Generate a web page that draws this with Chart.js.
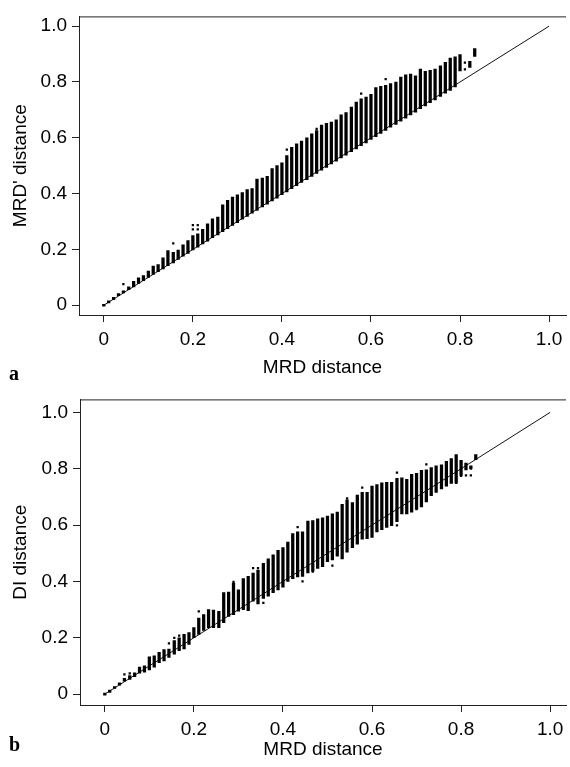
<!DOCTYPE html>
<html>
<head>
<meta charset="utf-8">
<script src="https://cdn.jsdelivr.net/npm/chart.js@4.4.1/dist/chart.umd.min.js"></script>
<style>
    body { margin: 0; background: #fff; width: 570px; height: 767px; position: relative; overflow: hidden; }
    canvas { position: absolute; left: 0; }
    #chartA { top: 0; }
    #chartB { top: 383px; }
    .panel { position: absolute; left: 9px; font: bold 20px "Liberation Serif", serif; color: #000; }
</style>
</head>
<body>
<canvas id="chartA" width="570" height="383"></canvas>
<canvas id="chartB" width="570" height="384"></canvas>
<div class="panel" style="top:362px">a</div>
<div class="panel" style="top:733px">b</div>
<script>
// tick values for both axes
const xTicks = [0, 0.2, 0.4, 0.6, 0.8, 1.0];
const yTicks = [0, 0.2, 0.4, 0.6, 0.8, 1.0];

// MRD distance of each column
const mrd = [0, 0.011, 0.022, 0.033, 0.044, 0.056, 0.067, 0.078, 0.089, 0.1,
    0.111, 0.122, 0.133, 0.144, 0.156, 0.167, 0.178, 0.189, 0.2, 0.211,
    0.222, 0.233, 0.244, 0.256, 0.267, 0.278, 0.289, 0.3, 0.311, 0.322,
    0.333, 0.344, 0.356, 0.367, 0.378, 0.389, 0.4, 0.411, 0.422, 0.433,
    0.444, 0.456, 0.467, 0.478, 0.489, 0.5, 0.511, 0.522, 0.533, 0.544,
    0.556, 0.567, 0.578, 0.589, 0.6, 0.611, 0.622, 0.633, 0.644, 0.656,
    0.667, 0.678, 0.689, 0.7, 0.711, 0.722, 0.733, 0.744, 0.756, 0.767,
    0.778, 0.789, 0.8, 0.811, 0.822, 0.833];

// panel a: MRD' distance range per column
const lowA = [0, 0.008, 0.02, 0.034, 0.044, 0.056, 0.066, 0.078, 0.088, 0.1,
    0.11, 0.12, 0.13, 0.142, 0.152, 0.164, 0.176, 0.186, 0.198, 0.208,
    0.22, 0.23, 0.242, 0.252, 0.264, 0.274, 0.286, 0.296, 0.308, 0.318,
    0.33, 0.34, 0.352, 0.362, 0.374, 0.384, 0.396, 0.406, 0.418, 0.428,
    0.44, 0.45, 0.462, 0.472, 0.484, 0.494, 0.506, 0.516, 0.528, 0.538,
    0.55, 0.56, 0.572, 0.582, 0.594, 0.604, 0.616, 0.626, 0.638, 0.648,
    0.66, 0.67, 0.682, 0.692, 0.704, 0.714, 0.726, 0.736, 0.748, 0.76,
    0.77, 0.782, 0.84, null, 0.852, 0.892];
const highA = [0.005, 0.016, 0.028, 0.042, 0.05, 0.066, 0.086, 0.098, 0.106, 0.122,
    0.14, 0.146, 0.17, 0.196, 0.19, 0.198, 0.216, 0.232, 0.25, 0.256,
    0.272, 0.292, 0.31, 0.316, 0.36, 0.376, 0.388, 0.396, 0.404, 0.414,
    0.418, 0.452, 0.456, 0.462, 0.49, 0.5, 0.51, 0.536, 0.566, 0.578,
    0.588, 0.6, 0.614, 0.626, 0.646, 0.652, 0.656, 0.664, 0.682, 0.69,
    0.71, 0.728, 0.74, 0.746, 0.756, 0.78, 0.784, 0.788, 0.794, 0.8,
    0.818, 0.826, 0.828, 0.822, 0.846, 0.838, 0.842, 0.846, 0.858, 0.87,
    0.886, 0.89, 0.898, null, 0.874, 0.92];
const dotsAx = [0.044, 0.156, 0.2, 0.2, 0.211, 0.211, 0.411, 0.478, 0.578, 0.633, 0.811, 0.811];
const dotsAy = [0.076, 0.222, 0.272, 0.287, 0.272, 0.287, 0.558, 0.632, 0.758, 0.81, 0.845, 0.869];

// panel b: DI distance range per column
const lowB = [0, 0.006, 0.02, 0.032, 0.046, 0.052, 0.062, 0.074, 0.078, 0.086,
    0.096, 0.112, 0.118, 0.13, 0.142, 0.154, 0.16, 0.176, 0.2, 0.212,
    0.226, 0.236, 0.236, 0.236, 0.254, 0.276, 0.282, 0.294, 0.3, 0.296,
    0.33, 0.32, 0.34, 0.348, 0.36, 0.37, 0.38, 0.4, 0.41, 0.416,
    0.418, 0.43, 0.436, 0.446, 0.452, 0.47, 0.476, 0.49, 0.48, 0.504,
    0.52, 0.532, 0.55, 0.552, 0.556, 0.576, 0.584, 0.592, 0.598, 0.612,
    0.64, 0.64, 0.646, 0.656, 0.664, 0.682, 0.704, 0.716, 0.728, 0.738,
    0.748, 0.75, 0.776, 0.796, 0.8, 0.832];
const highB = [0.005, 0.014, 0.026, 0.04, 0.056, 0.066, 0.076, 0.096, 0.1, 0.132,
    0.136, 0.148, 0.158, 0.16, 0.19, 0.2, 0.212, 0.218, 0.236, 0.27,
    0.282, 0.3, 0.298, 0.294, 0.36, 0.362, 0.394, 0.37, 0.41, 0.418,
    0.43, 0.44, 0.464, 0.48, 0.494, 0.51, 0.52, 0.54, 0.57, 0.576,
    0.576, 0.614, 0.616, 0.622, 0.626, 0.632, 0.64, 0.646, 0.674, 0.69,
    0.68, 0.706, 0.716, 0.716, 0.738, 0.744, 0.75, 0.752, 0.752, 0.766,
    0.768, 0.762, 0.78, 0.784, 0.794, 0.796, 0.804, 0.81, 0.814, 0.826,
    0.836, 0.85, 0.83, 0.82, 0.81, 0.85];
const dotsBx = [0.044, 0.056, 0.144, 0.156, 0.167, 0.211, 0.289, 0.333, 0.344, 0.356,
    0.411, 0.422, 0.433, 0.444, 0.467, 0.478, 0.511, 0.544, 0.578, 0.656,
    0.656, 0.7, 0.722, 0.789, 0.8, 0.811, 0.822, 0.822];
const dotsBy = [0.07, 0.074, 0.18, 0.2, 0.208, 0.294, 0.398, 0.447, 0.447, 0.324,
    0.529, 0.558, 0.593, 0.4, 0.435, 0.453, 0.456, 0.695, 0.733, 0.786,
    0.599, 0.657, 0.815, 0.75, 0.775, 0.776, 0.776, 0.8];

const fnt = { family: "'Liberation Sans', Arial, sans-serif", size: 19 };
const tickFmt = v => v === 0 ? '0' : v.toFixed(1);

// top line of the frame
const frameTop = {
    id: 'frameTop',
    afterDraw(c) {
        const { ctx, chartArea: a } = c;
        ctx.save();
        ctx.strokeStyle = '#222';
        ctx.lineWidth = 1;
        ctx.beginPath();
        ctx.moveTo(a.left, a.top + 0.5);
        ctx.lineTo(a.right, a.top + 0.5);
        ctx.stroke();
        ctx.restore();
    }
};

const makeChart = (id, low, high, dx, dy, yTitle, g) => {
    const bars = mrd.map((x, i) => ({ x: x, y: [low[i], high[i]] })).filter(d => d.y[0] !== null);
    const dots = dx.map((x, i) => ({ x: x, y: dy[i] }));
    new Chart(document.getElementById(id).getContext('2d'), {
        type: 'bar',
        data: {
            datasets: [
                { type: 'line', data: [{ x: 0, y: 0 }, { x: 1, y: 1 }], borderColor: '#111', borderWidth: 1, pointRadius: 0, order: 2 },
                { data: bars, backgroundColor: '#000', barThickness: 2.6, minBarLength: 2, order: 1 },
                { type: 'scatter', data: dots, backgroundColor: '#000', borderWidth: 0, pointStyle: 'rect', pointRadius: 1.6, order: 0 }
            ]
        },
        options: {
            responsive: false,
            animation: false,
            devicePixelRatio: 1,
            layout: { padding: { top: g.top, left: 0, right: 0, bottom: 0 } },
            plugins: { legend: { display: false }, tooltip: { enabled: false } },
            scales: {
                x: {
                    type: 'linear', min: -0.0557, max: g.xMax, offset: false,
                    afterBuildTicks: s => { s.ticks = xTicks.map(v => ({ value: v })); },
                    afterFit: s => { s.height = g.xH; },
                    ticks: { callback: tickFmt, color: '#000', font: fnt, padding: 6, maxRotation: 0, autoSkip: false },
                    grid: { offset: false, drawOnChartArea: false, tickLength: 7, color: '#222' },
                    border: { color: '#222', width: 1 },
                    title: { display: true, text: 'MRD distance', color: '#000', font: fnt, padding: { top: 0, bottom: g.tPad } }
                },
                y: {
                    min: g.yMin, max: g.yMax,
                    afterBuildTicks: s => { s.ticks = yTicks.map(v => ({ value: v })); },
                    afterFit: s => { s.width = g.left; },
                    ticks: { callback: tickFmt, color: '#000', font: fnt, padding: 5 },
                    grid: { drawOnChartArea: false, tickLength: 7, color: '#222' },
                    border: { color: '#222', width: 1 },
                    title: { display: true, text: yTitle, color: '#000', font: fnt, padding: { top: 9, bottom: 0 } }
                }
            }
        },
        plugins: [frameTop]
    });
};

makeChart('chartA', lowA, highA, dotsAx, dotsAy, "MRD' distance",
    { top: 9, left: 79, xH: 68, tPad: 4, xMax: 1.038, yMin: -0.035, yMax: 1.035 });
makeChart('chartB', lowB, highB, dotsBx, dotsBy, 'DI distance',
    { top: 13, left: 80, xH: 62, tPad: 6, xMax: 1.0356, yMin: -0.0386, yMax: 1.046 });
</script>
</body>
</html>
